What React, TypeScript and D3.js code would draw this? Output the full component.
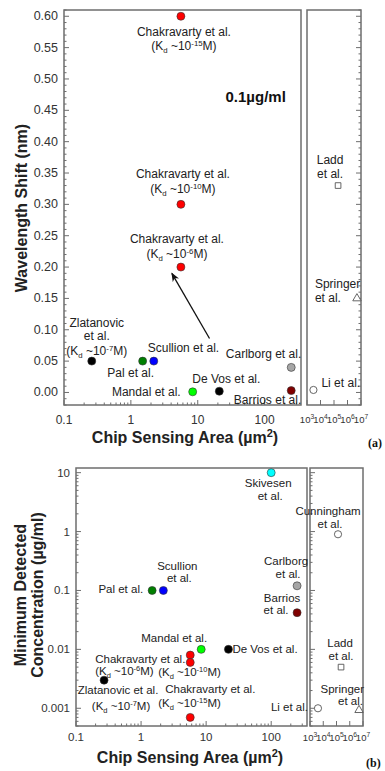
import React, { useRef, useEffect } from "react";
import * as d3 from "d3";

// (a) wavelength shift at 0.1 ug/ml vs chip area
const shiftNames = ["Chak15", "Chak10", "Chak6", "Zlatanovic", "Pal", "Scullion", "Mandal", "DeVos", "Carlborg", "Barrios"];
const shiftArea = [5.6, 5.6, 5.6, 0.26, 1.5, 2.2, 8.4, 21, 250, 250];
const shiftValue = [0.6, 0.3, 0.2, 0.05, 0.05, 0.05, 0.001, 0.002, 0.04, 0.003];
// large sensors, right inset of (a)
const shiftWideNames = ["Ladd", "Springer", "Li"];
const shiftWideArea = [2e5, 5e6, 3e3];
const shiftWideValue = [0.33, 0.15, 0.004];

// (b) minimum detected concentration vs chip area
const concNames = ["Skivesen", "Carlborg", "Barrios", "Pal", "Scullion", "Mandal", "DeVos", "Chak6", "Chak10", "Chak15", "Zlatanovic"];
const concArea = [100, 250, 250, 1.48, 2.2, 8.4, 22, 5.7, 5.7, 5.7, 0.27];
const concValue = [10, 0.12, 0.042, 0.1, 0.1, 0.01, 0.01, 0.008, 0.006, 0.0007, 0.003];
const concWideNames = ["Cunningham", "Ladd", "Springer", "Li"];
const concWideArea = [1.3e5, 2.2e5, 5e6, 4e3];
const concWideValue = [0.9, 0.005, 0.00093, 0.001];

const shiftTicks = [0, 0.05, 0.1, 0.15, 0.2, 0.25, 0.3, 0.35, 0.4, 0.45, 0.5, 0.55, 0.6];
const concTicks = [0.001, 0.01, 0.1, 1, 10];
const areaTicks = [0.1, 1, 10, 100];
const wideTicks = [1e3, 1e4, 1e5, 1e6, 1e7];

const fills: Record<string, string> = {
  Chak15: "#ff0000", Chak10: "#ff0000", Chak6: "#ff0000",
  Zlatanovic: "#000000", Pal: "#008000", Scullion: "#0000ff",
  Mandal: "#00ff00", DeVos: "#000000", Carlborg: "#a6a6a6",
  Barrios: "#800000", Skivesen: "#00ffff"
};
const shapes: Record<string, string> = {
  Ladd: "square", Springer: "triangle", Li: "circle", Cunningham: "circle"
};

// label lines: [text, dx, dy] relative to the marker, "Kd:n" = (Kd ~10^n M)
const shiftLabels = [
  { name: "Chak15", anchor: "middle", lines: [["Chakravarty et al.", 3, 20], ["Kd:-15", 3, 34]] },
  { name: "Chak10", anchor: "middle", lines: [["Chakravarty et al.", 2, -26], ["Kd:-10", 2, -11]] },
  { name: "Chak6", anchor: "middle", lines: [["Chakravarty et al.", -4, -24], ["Kd:-6", -4, -9]] },
  { name: "Zlatanovic", anchor: "middle", lines: [["Zlatanovic", 5, -34], ["et al.", 5, -21], ["Kd:-7", 5, -6]] },
  { name: "Pal", anchor: "middle", lines: [["Pal et al.", -12, 16]] },
  { name: "Scullion", anchor: "start", lines: [["Scullion et al.", -6, -9]] },
  { name: "Mandal", anchor: "end", lines: [["Mandal et al.", -12, 4]] },
  { name: "DeVos", anchor: "start", lines: [["De Vos et al.", -27, -8]] },
  { name: "Carlborg", anchor: "end", lines: [["Carlborg et al.", 10, -9]] },
  { name: "Barrios", anchor: "end", lines: [["Barrios et al.", 10, 13]] },
  { name: "Ladd", anchor: "middle", lines: [["Ladd", -8, -22], ["et al.", -8, -8]] },
  { name: "Springer", anchor: "start", lines: [["Springer", -42, -10], ["et al.", -42, 4]] },
  { name: "Li", anchor: "start", lines: [["Li et al.", 8, -3]] }
];
const concLabels = [
  { name: "Skivesen", anchor: "middle", lines: [["Skivesen", -3, 14], ["et al.", -1, 27]] },
  { name: "Cunningham", anchor: "middle", lines: [["Cunningham", -10, -19], ["et al.", -8, -6]] },
  { name: "Carlborg", anchor: "middle", lines: [["Carlborg", -11, -21], ["et al.", -9, -8]] },
  { name: "Barrios", anchor: "middle", lines: [["Barrios", -15, -11], ["et al.", -21, 1]] },
  { name: "Pal", anchor: "end", lines: [["Pal et al.", -9, 3]] },
  { name: "Scullion", anchor: "middle", lines: [["Scullion", 14, -20], ["et al.", 16, -8]] },
  { name: "Mandal", anchor: "middle", lines: [["Mandal et al.", -27, -7]] },
  { name: "DeVos", anchor: "start", lines: [["De Vos et al.", 4, 4]] },
  { name: "Chak6", anchor: "start", lines: [["Chakravarty et al.", -95, 8], ["Kd:-6", -95, 20]] },
  { name: "Chak10", anchor: "start", lines: [["Kd:-10", -32, 14]] },
  { name: "Chak15", anchor: "start", lines: [["Chakravarty et al.", -25, -24], ["Kd:-15", -32, -10]] },
  { name: "Zlatanovic", anchor: "middle", lines: [["Zlatanovic et al.", 14, 14], ["Kd:-7", 17, 30]] },
  { name: "Ladd", anchor: "middle", lines: [["Ladd", -1, -20], ["et al.", 0, -7]] },
  { name: "Springer", anchor: "end", lines: [["Springer", 5, -17], ["et al.", 4, -5]] },
  { name: "Li", anchor: "end", lines: [["Li et al.", -10, 3]] }
];

const FONT = "'Liberation Sans', Arial, sans-serif";
const FRAME = "#6e6e6e";
const INK = "#222";

function writeLabel(g, x, y, text, anchor, size) {
  const t = g.append("text").attr("x", x).attr("y", y).attr("text-anchor", anchor)
    .attr("font-size", size).attr("fill", INK).attr("font-family", FONT);
  if (text.startsWith("Kd:")) {
    const exp = text.slice(3);
    t.append("tspan").text("(K");
    t.append("tspan").attr("dy", 3).attr("font-size", size * 0.65).text("d");
    t.append("tspan").attr("dy", -3).text(" ~10");
    t.append("tspan").attr("dy", -4).attr("font-size", size * 0.65).text(exp);
    t.append("tspan").attr("dy", 4).text("M)");
  } else {
    t.text(text);
  }
}

function drawMarkers(g, names, xs, ys, x, y) {
  names.forEach((n, i) => {
    const px = x(xs[i]);
    const py = y(ys[i]);
    const shape = shapes[n];
    if (!shape) {
      g.append("circle").attr("cx", px).attr("cy", py).attr("r", 4)
        .attr("fill", fills[n]).attr("stroke", "#333").attr("stroke-width", 0.6);
    } else if (shape === "circle") {
      g.append("circle").attr("cx", px).attr("cy", py).attr("r", 3.6)
        .attr("fill", "#fff").attr("stroke", "#555").attr("stroke-width", 0.9);
    } else {
      const sym = shape === "square" ? d3.symbolSquare : d3.symbolTriangle;
      g.append("path").attr("d", d3.symbol(sym, shape === "square" ? 32 : 30)())
        .attr("transform", `translate(${px},${py})`)
        .attr("fill", "#fff").attr("stroke", "#555").attr("stroke-width", 0.9);
    }
  });
}

function drawLabels(g, labels, pos, size) {
  labels.forEach(l => {
    const p = pos[l.name];
    if (!p) return;
    l.lines.forEach(([txt, dx, dy]) => writeLabel(g, p[0] + dx, p[1] + dy, txt, l.anchor, size));
  });
}

function frameBox(g, x0, x1, y0, y1) {
  g.append("rect").attr("x", x0).attr("y", y0).attr("width", x1 - x0).attr("height", y1 - y0)
    .attr("fill", "none").attr("stroke", FRAME).attr("stroke-width", 1.5);
}

function tick(g, x1, y1, x2, y2) {
  g.append("line").attr("x1", x1).attr("y1", y1).attr("x2", x2).attr("y2", y2)
    .attr("stroke", FRAME).attr("stroke-width", 1);
}

function wideTickLabels(g, x, yBase, size) {
  wideTicks.forEach(v => {
    const t = g.append("text").attr("x", x(v)).attr("y", yBase).attr("text-anchor", "middle")
      .attr("font-size", size).attr("fill", "#333").attr("font-family", FONT);
    t.append("tspan").text("10");
    t.append("tspan").attr("dy", -4).attr("font-size", size * 0.7).text(Math.round(Math.log10(v)));
  });
}

function areaTitle(g, cx, y) {
  const t = g.append("text").attr("x", cx).attr("y", y).attr("text-anchor", "middle")
    .attr("font-size", 16).attr("font-weight", "bold").attr("fill", INK).attr("font-family", FONT);
  t.append("tspan").text("Chip Sensing Area (\u00b5m");
  t.append("tspan").attr("dy", -6).attr("font-size", 11).text("2");
  t.append("tspan").attr("dy", 6).text(")");
}

function areaFormat(v) {
  return v < 1 ? "0.1" : String(Math.round(v));
}

export default function App() {
  const ref = useRef(null);

  useEffect(() => {
    const svg = d3.select(ref.current);
    svg.selectAll("*").remove();

    // ---------- panel (a) ----------
    const a = svg.append("g");
    const ax = d3.scaleLog().domain([0.1, 350]).range([64, 301]);
    const ay = d3.scaleLinear().domain([-0.02, 0.61]).range([405, 10]);
    const awx = d3.scaleLog().domain([1e3, 1e7]).range([307, 361]);

    frameBox(a, 64, 301, 10, 405);
    frameBox(a, 307, 361, 10, 405);

    d3.range(-2, 62).map(i => i / 100).forEach(v => {
      const major = Math.round(v * 100) % 5 === 0;
      const len = major ? 5 : 2.5;
      tick(a, 64, ay(v), 64 + len, ay(v));
      tick(a, 361, ay(v), 361 - len, ay(v));
    });
    shiftTicks.forEach(v => {
      a.append("text").attr("x", 58).attr("y", ay(v) + 4).attr("text-anchor", "end")
        .attr("font-size", 12.5).attr("fill", "#333").attr("font-family", FONT).text(v.toFixed(2));
    });
    ax.ticks().forEach(v => {
      const major = areaTicks.some(t => Math.abs(t - v) < 1e-9);
      tick(a, ax(v), 405, ax(v), 405 - (major ? 5 : 2.5));
    });
    areaTicks.forEach(v => {
      a.append("text").attr("x", ax(v)).attr("y", 424).attr("text-anchor", "middle")
        .attr("font-size", 12).attr("fill", "#333").attr("font-family", FONT).text(areaFormat(v));
    });
    wideTicks.forEach(v => tick(a, awx(v), 405, awx(v), 400));
    wideTickLabels(a, awx, 423, 9.5);

    // arrow to Chakravarty 1e-6
    a.append("defs").append("marker").attr("id", "arr").attr("viewBox", "0 0 10 10")
      .attr("refX", 9).attr("refY", 5).attr("markerWidth", 9).attr("markerHeight", 9)
      .attr("markerUnits", "userSpaceOnUse").attr("orient", "auto")
      .append("path").attr("d", "M0,1 L10,5 L0,9 L3,5 Z").attr("fill", "#111");
    a.append("line").attr("x1", ax(15)).attr("y1", ay(0.086)).attr("x2", ax(4.1)).attr("y2", ay(0.19))
      .attr("stroke", "#111").attr("stroke-width", 1.3).attr("marker-end", "url(#arr)");

    drawMarkers(a, shiftNames, shiftArea, shiftValue, ax, ay);
    drawMarkers(a, shiftWideNames, shiftWideArea, shiftWideValue, awx, ay);
    const aPos = {};
    shiftNames.forEach((n, i) => (aPos[n] = [ax(shiftArea[i]), ay(shiftValue[i])]));
    shiftWideNames.forEach((n, i) => (aPos[n] = [awx(shiftWideArea[i]), ay(shiftWideValue[i])]));
    drawLabels(a, shiftLabels, aPos, 12);

    a.append("text").attr("x", ax(26)).attr("y", ay(0.463)).attr("font-size", 15)
      .attr("font-weight", "bold").attr("fill", "#111").attr("font-family", FONT).text("0.1\u00b5g/ml");

    a.append("text").attr("transform", "translate(27,208) rotate(-90)").attr("text-anchor", "middle")
      .attr("font-size", 16).attr("font-weight", "bold").attr("fill", INK).attr("font-family", FONT)
      .text("Wavelength Shift (nm)");
    areaTitle(a, 185, 443);
    a.append("text").attr("x", 368).attr("y", 447).attr("font-size", 12).attr("font-weight", "bold")
      .attr("font-family", "'Liberation Serif', serif").attr("fill", "#111").text("(a)");

    // ---------- panel (b) ----------
    const b = svg.append("g");
    const bx = d3.scaleLog().domain([0.1, 355]).range([76, 307]);
    const by = d3.scaleLog().domain([0.0005, 12]).range([726, 468]);
    const bwx = d3.scaleLog().domain([1e3, 1e7]).range([310, 363]);

    frameBox(b, 76, 307, 468, 726);
    frameBox(b, 310, 363, 468, 726);

    by.ticks().forEach(v => {
      const major = concTicks.some(t => Math.abs(t / v - 1) < 1e-6);
      const len = major ? 5 : 2.5;
      tick(b, 76, by(v), 76 + len, by(v));
      tick(b, 310, by(v), 310 + len, by(v));
    });
    concTicks.forEach(v => {
      b.append("text").attr("x", 70).attr("y", by(v) + 4).attr("text-anchor", "end")
        .attr("font-size", 11.5).attr("fill", "#333").attr("font-family", FONT).text(String(v));
    });
    bx.ticks().forEach(v => {
      const major = areaTicks.some(t => Math.abs(t / v - 1) < 1e-6);
      tick(b, bx(v), 726, bx(v), 726 - (major ? 5 : 2.5));
    });
    areaTicks.forEach(v => {
      b.append("text").attr("x", bx(v)).attr("y", 741).attr("text-anchor", "middle")
        .attr("font-size", 11.5).attr("fill", "#333").attr("font-family", FONT).text(areaFormat(v));
    });
    wideTicks.forEach(v => tick(b, bwx(v), 726, bwx(v), 721));
    wideTickLabels(b, bwx, 741, 9.5);

    drawMarkers(b, concNames, concArea, concValue, bx, by);
    drawMarkers(b, concWideNames, concWideArea, concWideValue, bwx, by);
    const bPos = {};
    concNames.forEach((n, i) => (bPos[n] = [bx(concArea[i]), by(concValue[i])]));
    concWideNames.forEach((n, i) => (bPos[n] = [bwx(concWideArea[i]), by(concWideValue[i])]));
    drawLabels(b, concLabels, bPos, 11.5);

    const yt = b.append("text").attr("transform", "translate(0,595) rotate(-90)").attr("text-anchor", "middle")
      .attr("font-size", 16).attr("font-weight", "bold").attr("fill", INK).attr("font-family", FONT);
    yt.append("tspan").attr("x", 0).attr("y", 26).text("Minimum Detected");
    yt.append("tspan").attr("x", 0).attr("y", 43).text("Concentration (\u00b5g/ml)");
    areaTitle(b, 190, 763);
    b.append("text").attr("x", 366).attr("y", 767).attr("font-size", 12).attr("font-weight", "bold")
      .attr("font-family", "'Liberation Serif', serif").attr("fill", "#111").text("(b)");
  }, []);

  return (
    <svg ref={ref} width={385} height={771}
      style={{ position: "absolute", left: 0, top: 0, background: "#fff" }} />
  );
}
